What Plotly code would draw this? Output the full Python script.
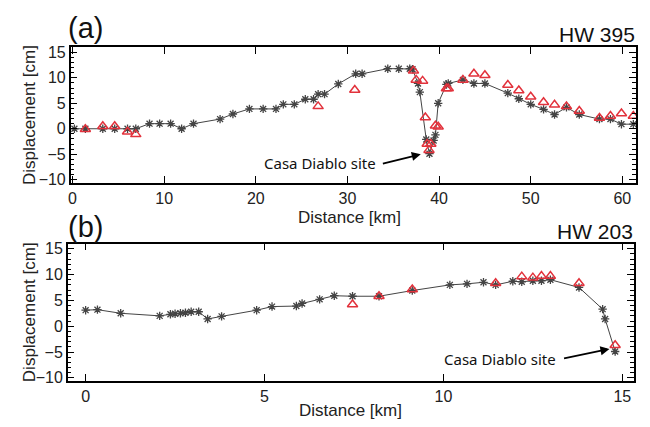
import plotly.graph_objects as go

# ---- Panel (a): HW 395 ----
a_model_km = [0.2, 1.4, 3.3, 4.6, 6.0, 6.9, 8.4, 9.5, 10.7, 11.9, 13.2, 16.1, 17.5, 19.3, 20.8,
              22.2, 23.0, 24.2, 25.4, 26.3, 26.8, 27.5, 29.0, 30.9, 31.6, 34.4, 35.6, 36.8, 37.1,
              37.7, 37.9, 38.6, 38.95, 39.4, 39.6, 39.9, 40.8, 41.0, 42.6, 43.8, 45.0, 47.5, 48.7,
              50.0, 51.4, 52.6, 53.9, 55.3, 57.5, 58.7, 59.9, 61.2]
a_model_cm = [0.0, 0.0, 0.0, 0.0, 0.0, 0.0, 1.0, 1.0, 1.0, 0.0, 1.0, 1.9, 2.9, 3.9, 3.9,
              3.9, 4.8, 4.8, 5.8, 5.8, 6.8, 6.8, 8.8, 10.8, 10.8, 11.8, 11.8, 11.8, 11.7,
              8.9, 7.2, -2.1, -4.9, -2.3, -1.2, 5.0, 8.7, 8.9, 9.6, 8.9, 8.9, 7.0, 5.9,
              4.8, 3.8, 2.8, 4.2, 2.8, 1.9, 1.9, 0.9, 0.9]
a_obs_km = [1.4, 3.3, 4.6, 6.0, 6.9, 26.8, 30.8, 37.2, 37.5, 38.2, 38.5, 38.7, 38.9, 39.1,
            39.6, 39.9, 40.8, 41.0, 42.6, 43.8, 45.0, 47.5, 48.7, 50.0, 51.4, 52.6, 53.9,
            55.3, 57.5, 58.7, 59.9, 61.2]
a_obs_cm = [-0.1, 0.5, 0.5, -0.6, -1.1, 4.4, 7.6, 11.4, 9.6, 9.4, 2.2, -3.0, -4.2, -3.0,
            0.6, 0.4, 7.9, 7.9, 9.6, 10.8, 10.5, 8.6, 7.5, 6.3, 5.2, 4.7, 4.4,
            3.5, 2.1, 2.5, 3.0, 2.5]

# ---- Panel (b): HW 203 ----
b_model_km = [0.0, 0.33, 0.98, 2.07, 2.37, 2.5, 2.65, 2.79, 2.95, 3.16, 3.41, 3.8, 4.78, 5.21,
              5.89, 6.05, 6.54, 6.95, 7.46, 8.2, 9.13, 10.18, 10.66, 11.12, 11.46, 11.94, 12.19,
              12.5, 12.74, 12.99, 13.79, 14.45, 14.52, 14.8]
b_model_cm = [3.1, 3.2, 2.5, 2.0, 2.3, 2.4, 2.5, 2.6, 2.8, 2.8, 1.4, 1.9, 3.1, 3.8,
              3.9, 4.4, 5.2, 5.9, 5.8, 5.8, 6.9, 8.0, 8.2, 8.5, 8.0, 8.7, 8.6,
              8.8, 8.8, 9.0, 7.5, 3.3, 1.4, -4.9]
b_obs_km = [7.46, 8.2, 9.13, 11.46, 12.19, 12.5, 12.74, 12.99, 13.79, 14.8]
b_obs_cm = [4.2, 5.8, 7.1, 8.3, 9.6, 9.4, 9.7, 9.7, 8.3, -3.7]

y_ticks = [-10, -5, 0, 5, 10, 15]
a_x_ticks = [0, 10, 20, 30, 40, 50, 60]
b_x_ticks = [0, 5, 10, 15]

RED = "#e2323c"
FONT = "Liberation Sans, Arial, sans-serif"
OFF = 8  # page body margin compensation (px)
W, H = 650, 427

def px(xp):
    return (xp - OFF) / W

def py(yp):
    return 1 - (yp - OFF) / H

fig = go.Figure()

def add_panel(xs, ys, xo, yo, xa, ya):
    fig.add_trace(go.Scatter(x=xs, y=ys, mode="lines+markers", xaxis=xa, yaxis=ya,
                             line=dict(color="#444444", width=1),
                             marker=dict(symbol="asterisk-open", size=7,
                                         line=dict(color="black", width=1.3))))
    fig.add_trace(go.Scatter(x=xo, y=yo, mode="markers", xaxis=xa, yaxis=ya,
                             marker=dict(symbol="triangle-up-open", size=9, color=RED,
                                         line=dict(color=RED, width=1.5))))

add_panel(a_model_km, a_model_cm, a_obs_km, a_obs_cm, "x", "y")
add_panel(b_model_km, b_model_cm, b_obs_km, b_obs_cm, "x2", "y2")

axis_common = dict(showline=True, linecolor="black", linewidth=1.5, mirror="allticks",
                   ticks="inside", ticklen=7, tickcolor="black", tickwidth=1,
                   showgrid=False, zeroline=False,
                   tickfont=dict(family=FONT, size=16, color="#222222"))
yminor = dict(ticks="inside", ticklen=4, dtick=1, tickcolor="black", tickwidth=1)

fig.update_layout(
    width=W, height=H, margin=dict(l=0, r=0, t=0, b=0),
    plot_bgcolor="white", paper_bgcolor="white", showlegend=False,
    xaxis=dict(domain=[px(68), px(636)], range=[-0.2, 61.5], anchor="y",
               tickvals=a_x_ticks, **axis_common),
    yaxis=dict(domain=[py(183), py(45)], range=[-10.6, 16], anchor="x",
               tickvals=y_ticks, minor=yminor, **axis_common),
    xaxis2=dict(domain=[px(65), px(634)], range=[-0.5, 15.33], anchor="y2",
                tickvals=b_x_ticks, **axis_common),
    yaxis2=dict(domain=[py(385), py(245)], range=[-10.6, 16], anchor="x2",
                tickvals=y_ticks, minor=yminor, **axis_common),
)

ann = []
ann.append(dict(text="(a)", x=px(63), y=py(25), xref="paper", yref="paper",
                xanchor="left", yanchor="middle", showarrow=False,
                font=dict(family=FONT, size=29, color="#111111")))
ann.append(dict(text="(b)", x=px(63), y=py(228), xref="paper", yref="paper",
                xanchor="left", yanchor="middle", showarrow=False,
                font=dict(family=FONT, size=29, color="#111111")))
ann.append(dict(text="HW 395", x=px(637), y=py(32), xref="paper", yref="paper",
                xanchor="right", yanchor="middle", showarrow=False,
                font=dict(family=FONT, size=21, color="#111111")))
ann.append(dict(text="HW 203", x=px(635), y=py(233), xref="paper", yref="paper",
                xanchor="right", yanchor="middle", showarrow=False,
                font=dict(family=FONT, size=21, color="#111111")))
for ymid in [114, 315]:
    ann.append(dict(text="Displacement [cm]", x=px(26), y=py(ymid), xref="paper", yref="paper",
                    xanchor="center", yanchor="middle", textangle=-90, showarrow=False,
                    font=dict(family=FONT, size=17, color="#222222")))
ann.append(dict(text="Distance [km]", x=px(348), y=py(218), xref="paper", yref="paper",
                xanchor="center", yanchor="middle", showarrow=False,
                font=dict(family=FONT, size=17, color="#222222")))
ann.append(dict(text="Distance [km]", x=px(349), y=py(415), xref="paper", yref="paper",
                xanchor="center", yanchor="middle", showarrow=False,
                font=dict(family=FONT, size=17, color="#222222")))
ann.append(dict(text="Casa Diablo site", x=33.3, y=-6.7, xref="x", yref="y",
                xanchor="right", yanchor="middle", showarrow=False,
                font=dict(family="Noto Sans", size=15, color="#111111")))
ann.append(dict(text="", x=38.0, y=-5.0, ax=33.7, ay=-6.9, xref="x", yref="y",
                axref="x", ayref="y", showarrow=True, arrowhead=2, arrowsize=1,
                arrowwidth=1.8, arrowcolor="black"))
ann.append(dict(text="Casa Diablo site", x=13.19, y=-6.45, xref="x2", yref="y2",
                xanchor="right", yanchor="middle", showarrow=False,
                font=dict(family="Noto Sans", size=15, color="#111111")))
ann.append(dict(text="", x=14.64, y=-4.4, ax=13.33, ay=-6.3, xref="x2", yref="y2",
                axref="x2", ayref="y2", showarrow=True, arrowhead=2, arrowsize=1,
                arrowwidth=1.8, arrowcolor="black"))
fig.update_layout(annotations=ann)

fig.write_html("out.html")
